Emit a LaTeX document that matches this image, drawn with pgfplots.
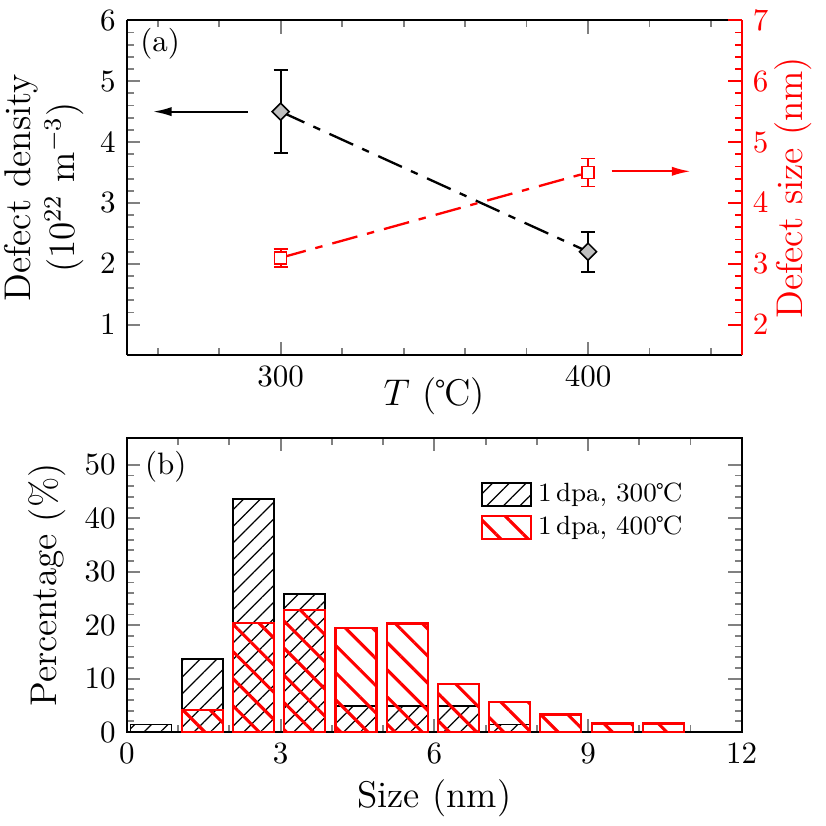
\documentclass[border=0pt]{standalone}
\usepackage{pgfplots}
\pgfplotsset{compat=1.18}
\usetikzlibrary{patterns.meta,arrows.meta}

\pgfplotsset{
  every axis/.append style={
    scale only axis, width=198.4pt, anchor=south west,
    line width=0.6pt, tick style={line width=0.6pt},
    major tick length=4.3pt, minor tick length=2.3pt,
    tick label style={font=\normalsize},
    label style={font=\large, inner sep=1pt},
  },
  dashdot/.style={dash pattern=on 8.4pt off 3.2pt on 2.4pt off 3.3pt},
}

\begin{document}
\begin{tikzpicture}

% (b) size distribution
\begin{axis}[
  at={(0pt,0pt)}, height=94.84pt,
  xmin=0, xmax=12, xtick={0,3,6,9,12}, minor x tick num=2,
  ymin=0, ymax=55, ytick={0,10,...,50}, minor y tick num=4,
  xlabel={Size (nm)}, ylabel={Percentage (\%)},
  xlabel style={at={(axis description cs:0.5,-0.225)}, anchor=center},
  ylabel style={at={(axis description cs:-0.13,0.5)}, anchor=center},
  legend style={at={(0.574,0.871)}, anchor=north west, draw=none, fill=none,
    font=\fontsize{8.5}{10}\selectfont, inner sep=0pt, row sep=-1pt},
  legend image code/.code={\draw[#1] (0pt,-3.7pt) rectangle (15.8pt,3.7pt);},
]
\addplot[ybar, bar width=0.8, bar shift=0pt, draw=black, line width=0.6pt,
  pattern={Lines[angle=45,distance=3.8pt,line width=0.4pt]}, pattern color=black]
  coordinates {(0.47,1.4) (1.47,13.6) (2.47,43.6) (3.47,25.8) (4.47,4.8) (5.47,4.8) (6.47,4.8) (7.47,1.4)};
\addlegendentry{1\,dpa, 300℃}
\addplot[ybar, bar width=0.8, bar shift=0pt, draw=red, line width=0.7pt,
  pattern={Lines[angle=-45,distance=6.2pt,line width=1pt]}, pattern color=red]
  coordinates {(1.47,4.1) (2.47,20.4) (3.47,22.8) (4.47,19.5) (5.47,20.3) (6.47,8.95) (7.47,5.6) (8.47,3.3) (9.47,1.6) (10.47,1.6)};
\addlegendentry{1\,dpa, 400℃}
\node at (rel axis cs:0.063,0.902) {(b)};
\end{axis}

% (a) density, left axis
\begin{axis}[
  at={(0pt,121.62pt)}, height=108.07pt,
  xmin=250, xmax=450, xtick={300,400}, minor xtick={260,280,320,340,360,380,420,440},
  ymin=0.5, ymax=6, ytick={1,...,6}, minor y tick num=4,
  axis x line*=box, axis y line*=left,
  xlabel={$T$ (℃)},
  xlabel style={at={(axis description cs:0.5,-0.122)}, anchor=center},
  ylabel={Defect density\\(10$^{22}$ m$^{-3}$)},
  ylabel style={align=center, at={(axis description cs:-0.135,0.5)}, anchor=center},
]
\addplot[black, line width=0.75pt, dashdot,
  mark=square*, mark size=1.95pt,
  mark options={solid, rotate=45, fill=black!25, draw=black, line width=0.5pt},
  error bars/.cd, y dir=both, y explicit,
  error bar style={solid, line width=0.6pt},
  error mark options={solid, rotate=90, black, mark size=2.3pt, line width=0.6pt}]
  coordinates {(300,4.5) +- (0,0.68) (400,2.2) +- (0,0.33)};
\draw[-{Latex[length=6pt,width=3pt]}, line width=0.6pt] (axis cs:289.3,4.5) -- (axis cs:258.5,4.5);
\node at (rel axis cs:0.054,0.93) {(a)};
\end{axis}

% (a) size, right axis
\begin{axis}[
  at={(0pt,121.62pt)}, height=108.07pt,
  xmin=250, xmax=450,
  axis x line=none, axis y line*=right,
  ymin=1.5, ymax=7, ytick={2,...,7}, minor y tick num=4,
  y axis line style={red}, every tick/.append style={red},
  yticklabel style={red},
  ylabel={Defect size (nm)},
  ylabel style={red, at={(axis description cs:1.083,0.5)}, anchor=center},
]
\addplot[red, line width=0.75pt, dashdot,
  mark=square*, mark size=1.95pt,
  mark options={solid, fill=white, draw=red, line width=0.5pt},
  error bars/.cd, y dir=both, y explicit,
  error bar style={solid, line width=0.6pt},
  error mark options={solid, rotate=90, red, mark size=2.3pt, line width=0.6pt}]
  coordinates {(300,3.1) +- (0,0.15) (400,4.5) +- (0,0.23)};
\draw[red, -{Latex[length=6pt,width=3pt]}, line width=0.6pt] (axis cs:407.7,4.52) -- (axis cs:433.3,4.52);
\end{axis}

\path (-40.97pt,-30.32pt) rectangle (225.5pt,236.14pt);
\end{tikzpicture}
\end{document}
